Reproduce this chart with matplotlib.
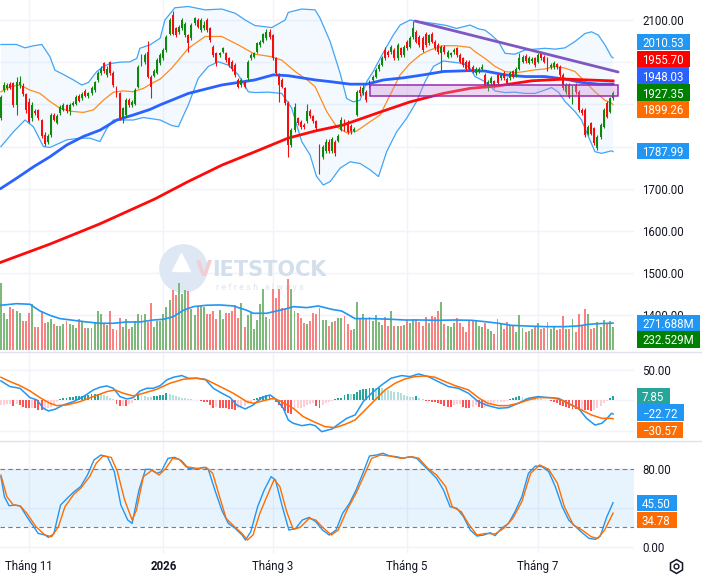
import numpy as np
import matplotlib
matplotlib.use("Agg")
import matplotlib.pyplot as plt
from matplotlib.patches import Rectangle
from matplotlib.lines import Line2D
from matplotlib.transforms import IdentityTransform, blended_transform_factory

plt.rcParams['font.family'] = ['Roboto', 'DejaVu Sans']

# ---------------- data ----------------
opens = [
    1867, 1934, 1938, 1948, 1950, 1899, 1946, 1944, 1924, 1906,
    1867, 1884, 1887, 1863, 1828, 1812, 1828, 1875, 1857, 1879,
    1887, 1899, 1884, 1899, 1902, 1921, 1914, 1932, 1921, 1926,
    1934, 1958, 1974, 1997, 1970, 2000, 1974, 1940, 1926, 1867,
    1875, 1910, 1899, 1902, 1942, 1993, 2001, 2025, 1966, 1968,
    1975, 1997, 2009, 2029, 2068, 2112, 2080, 2072, 2080, 2064,
    2064, 2057, 2092, 2100, 2076, 2080, 2100, 2080, 2037, 2021,
    2017, 2025, 2021, 2009, 2001, 1993, 1958, 1946, 1954, 1962,
    2009, 2013, 2025, 2041, 2049, 2057, 2072, 2064, 2009, 1970,
    1958, 1938, 1903, 1804, 1839, 1867, 1858, 1851, 1860, 1885,
    1872, 1860, 1800, 1775, 1790, 1812, 1790, 1812, 1814, 1840,
    1863, 1858, 1850, 1838, 1875, 1934, 1926, 1930, 1942, 1958,
    1966, 1985, 1993, 2029, 2025, 2025, 2029, 2009, 2033, 2017,
    2049, 2037, 2060, 2072, 2060, 2057, 2068, 2045, 2068, 2049,
    2041, 2021, 2037, 2013, 2017, 2025, 2033, 2017, 2009, 2001,
    2001, 1989, 1974, 1978, 1985, 1970, 1938, 1950, 1955, 1970,
    1962, 1974, 1960, 1963, 1978, 1970, 1985, 2001, 2015, 1999,
    2003, 2009, 2001, 2021, 2013, 2009, 1989, 1989, 1995, 1989,
    1970, 1929, 1946, 1906, 1946, 1929, 1887, 1887, 1831, 1855,
    1843, 1796, 1823, 1847, 1903, 1883, 1914]
closes = [
    1918, 1946, 1946, 1940, 1899, 1952, 1952, 1924, 1887, 1859,
    1899, 1879, 1867, 1824, 1805, 1824, 1875, 1863, 1873, 1895,
    1899, 1884, 1899, 1904, 1918, 1909, 1925, 1921, 1926, 1940,
    1952, 1974, 1985, 1978, 1984, 1974, 1946, 1922, 1867, 1891,
    1910, 1899, 1906, 1934, 1989, 2013, 2017, 1966, 1942, 1979,
    2005, 2017, 2029, 2060, 2100, 2068, 2064, 2084, 2100, 2090,
    2045, 2088, 2104, 2084, 2100, 2088, 2076, 2052, 2017, 1997,
    2021, 2033, 2005, 1993, 1985, 1970, 1942, 1958, 1942, 2001,
    2017, 2021, 2045, 2049, 2066, 2071, 2060, 2009, 1974, 1946,
    1942, 1903, 1804, 1839, 1895, 1855, 1846, 1846, 1885, 1872,
    1860, 1845, 1742, 1800, 1812, 1790, 1818, 1786, 1826, 1862,
    1843, 1835, 1838, 1842, 1930, 1926, 1938, 1910, 1954, 1966,
    1982, 1993, 2009, 2009, 2017, 2037, 2009, 2041, 2017, 2037,
    2033, 2057, 2080, 2049, 2041, 2029, 2041, 2064, 2049, 2033,
    2025, 2037, 2025, 2025, 2021, 2029, 2017, 2001, 1993, 1985,
    1985, 1978, 1985, 1985, 1989, 1942, 1954, 1963, 1942, 1950,
    1970, 1962, 1950, 1974, 1966, 1985, 2009, 2013, 2003, 2011,
    2008, 1993, 2017, 2009, 2001, 1982, 1993, 1999, 1989, 1970,
    1938, 1946, 1918, 1942, 1929, 1887, 1879, 1827, 1847, 1831,
    1808, 1823, 1851, 1887, 1871, 1914, 1927.35]
highs = [
    1922, 1952, 1950, 1953, 1953, 1966, 1967, 1950, 1928, 1915,
    1905, 1888, 1890, 1866, 1835, 1830, 1880, 1879, 1877, 1899,
    1904, 1902, 1903, 1908, 1922, 1925, 1930, 1936, 1930, 1944,
    1956, 1980, 1992, 2000, 1990, 2003, 1978, 1944, 1930, 1895,
    1914, 1914, 1910, 1938, 1993, 2020, 2022, 2050, 1970, 1983,
    2010, 2022, 2033, 2064, 2104, 2121, 2084, 2088, 2104, 2095,
    2068, 2092, 2108, 2104, 2104, 2098, 2104, 2084, 2041, 2025,
    2025, 2037, 2025, 2013, 2005, 1997, 1962, 1962, 1958, 2005,
    2021, 2025, 2049, 2053, 2070, 2078, 2078, 2068, 2013, 1974,
    1962, 1942, 1907, 1843, 1903, 1871, 1862, 1855, 1900, 1889,
    1876, 1864, 1805, 1804, 1818, 1817, 1822, 1815, 1830, 1870,
    1866, 1862, 1853, 1846, 1935, 1944, 1946, 1934, 1958, 1970,
    1986, 1997, 2015, 2035, 2030, 2041, 2033, 2045, 2037, 2041,
    2052, 2062, 2098, 2077, 2065, 2062, 2072, 2068, 2072, 2053,
    2045, 2041, 2041, 2029, 2025, 2033, 2037, 2021, 2013, 2005,
    2005, 1993, 1989, 1989, 1996, 1974, 1958, 1967, 1959, 1974,
    1974, 1978, 1964, 1978, 1982, 1989, 2021, 2017, 2019, 2015,
    2012, 2013, 2021, 2025, 2017, 2013, 1997, 2003, 1999, 1993,
    1974, 1950, 1950, 1946, 1950, 1933, 1891, 1891, 1851, 1859,
    1847, 1827, 1855, 1891, 1907, 1918, 1931]
lows = [
    1863, 1930, 1934, 1936, 1895, 1875, 1940, 1920, 1880, 1855,
    1860, 1875, 1862, 1820, 1802, 1806, 1822, 1860, 1853, 1876,
    1884, 1880, 1875, 1896, 1898, 1905, 1910, 1918, 1915, 1922,
    1930, 1954, 1970, 1975, 1966, 1970, 1942, 1918, 1863, 1856,
    1870, 1895, 1895, 1898, 1938, 1990, 1996, 1962, 1915, 1964,
    1972, 1993, 2005, 2025, 2064, 2064, 2060, 2068, 2076, 2060,
    2025, 2053, 2088, 2080, 2072, 2076, 2072, 2048, 2013, 1990,
    2013, 2021, 2001, 1989, 1980, 1966, 1938, 1942, 1938, 1958,
    2005, 2009, 2021, 2037, 2045, 2053, 2056, 2005, 1970, 1906,
    1938, 1899, 1776, 1800, 1835, 1851, 1842, 1842, 1856, 1868,
    1856, 1840, 1735, 1770, 1785, 1785, 1786, 1777, 1810, 1836,
    1838, 1830, 1830, 1834, 1872, 1920, 1922, 1905, 1938, 1954,
    1962, 1980, 1990, 2005, 2012, 2020, 2005, 2005, 2013, 2012,
    2030, 2033, 2056, 2045, 2036, 2025, 2036, 2040, 2045, 2029,
    2020, 1978, 2020, 2009, 2013, 2020, 2013, 1997, 1989, 1980,
    1981, 1974, 1970, 1974, 1981, 1938, 1932, 1946, 1938, 1946,
    1958, 1958, 1946, 1959, 1962, 1966, 1981, 1997, 1999, 1995,
    1999, 1989, 1997, 2005, 1997, 1978, 1985, 1985, 1985, 1966,
    1934, 1925, 1914, 1902, 1925, 1883, 1875, 1823, 1827, 1827,
    1804, 1792, 1819, 1843, 1867, 1879, 1910]

# volume, millions of shares
volumes = [
    674, 377, 317, 438, 418, 394, 371, 293, 293, 377,
    462, 233, 233, 394, 276, 283, 310, 266, 243, 243,
    266, 293, 266, 249, 226, 317, 283, 226, 226, 226,
    283, 394, 361, 276, 249, 394, 216, 202, 327, 236,
    317, 209, 236, 293, 361, 350, 361, 283, 479, 236,
    293, 293, 361, 438, 506, 607, 553, 674, 563, 607,
    596, 418, 350, 445, 445, 438, 361, 361, 394, 310,
    404, 310, 377, 377, 394, 452, 327, 479, 236, 350,
    371, 216, 303, 462, 613, 337, 317, 613, 529, 613,
    428, 411, 721, 613, 394, 371, 327, 270, 259, 293,
    377, 361, 428, 303, 303, 243, 283, 293, 327, 327,
    344, 259, 202, 216, 485, 317, 361, 310, 334, 293,
    354, 283, 253, 334, 243, 394, 243, 243, 243, 253,
    303, 276, 310, 317, 283, 243, 334, 276, 344, 334,
    394, 485, 259, 243, 236, 270, 320, 276, 236, 182,
    290, 300, 300, 243, 236, 270, 216, 192, 158, 317,
    259, 209, 286, 249, 253, 182, 350, 219, 182, 192,
    216, 243, 276, 216, 219, 283, 209, 236, 202, 209,
    344, 209, 216, 317, 182, 367, 243, 418, 367, 216,
    226, 283, 236, 303, 266, 293, 232.529]

macd_hist = [
    -7.7, -7.0, -6.6, -6.3, -8.8, -6.6, -7.7, -10.5, -13.2, -13.5,
    -13.0, -13.5, -16.0, -16.3, -14.3, -13.2, -10.5, -6.6, -2.2, 1.7,
    3.3, 4.4, 5.0, 6.1, 6.3, 7.2, 7.7, 8.8, 9.0, 9.9,
    10.0, 10.2, 9.9, 8.8, 7.7, 4.4, 1.7, -6.6, -9.4, -8.8,
    -9.4, -6.6, -5.0, 1.7, 8.0, 7.7, 6.6, 6.1, 6.0, 7.2,
    7.7, 8.8, 9.0, 11.6, 10.5, 8.8, 7.2, 6.1, 4.4, 3.3,
    2.2, 1.7, 0.6, 0.2, -1.1, -2.2, -3.3, -7.7, -12.1, -10.5,
    -12.1, -13.2, -13.3, -14.3, -14.4, -16.0, -13.2, -12.1, -8.8, -6.6,
    -2.2, 1.7, 4.4, 6.1, 7.7, 8.8, 8.9, 4.4, -2.2, -7.7,
    -13.2, -17.6, -21.5, -22.0, -16.0, -13.2, -13.0, -10.5, -7.7, -6.6,
    -5.0, -8.8, -13.2, -7.7, -5.0, -2.2, -1.1, 1.7, 3.3, 4.4,
    8.8, 10.5, 9.9, 10.2, 14.3, 17.1, 18.7, 18.9, 19.8, 20.9,
    19.8, 20.9, 19.8, 17.1, 16.5, 15.4, 14.3, 13.2, 11.6, 8.8,
    7.2, 6.1, 6.0, 7.2, 3.3, 1.7, -1.1, -1.2, -2.2, -2.3,
    -5.0, -6.6, -8.8, -10.5, -10.6, -7.7, -6.6, -6.5, -10.5, -12.1,
    -12.2, -10.5, -7.7, -10.5, -12.1, -10.5, -7.7, -6.6, -5.0, -3.9,
    -3.3, -2.2, -1.1, 2.2, 4.4, 6.1, 7.2, 6.1, 4.4, 3.3,
    3.2, 2.2, 1.7, 1.6, 1.1, 0.6, -1.1, -2.2, -5.0, -7.7,
    -8.8, -10.5, -13.2, -14.3, -15.0, -15.5, -15.4, -16.0, -16.5, -17.0,
    -15.5, -13.2, -9.0, -4.5, -1.0, 3.5, 7.85]

# indicator lines, sampled along the bar axis
bb_upper_x = [0, 5, 7.7, 10.4, 13.1, 15.7, 17.3, 20, 23.2, 25.9,
              28, 30.7, 32.8, 35, 38.1, 41.3, 43.5, 44.5, 47.7, 51,
              52.5, 55.7, 60, 65.4, 70.7, 75, 78.2, 81.3, 86.7, 91,
              92, 96.3, 100.6, 102.2, 105.4, 108.6, 110.7, 112.8, 115, 117.1,
              119.2, 121.4, 123.5, 125.6, 127.8, 131, 134.2, 138.5, 142.7, 145.9,
              150.2, 152.9, 155, 157.1, 159.3, 161.4, 164.6, 167.8, 171, 174.2,
              177.4, 180.6, 183.8, 187, 189.1, 191.3, 193.4, 195.5, 196]
bb_upper = [2042, 2042, 2034, 2039, 2042, 2013, 1981, 1971, 1958, 1946,
            1952, 1978, 1990, 1997, 2000, 2001, 2009, 2033, 2041, 2057,
            2100, 2129, 2132, 2124, 2126, 2116, 2100, 2087, 2082, 2100,
            2118, 2126, 2124, 2104, 2049, 1974, 1914, 1906, 1910, 1954,
            1978, 2009, 2037, 2064, 2088, 2100, 2096, 2092, 2087, 2080,
            2088, 2079, 2076, 2064, 2049, 2021, 2019, 2029, 2031, 2033,
            2031, 2034, 2049, 2068, 2072, 2064, 2041, 2013, 2010.53]
bb_lower_x = [0, 4, 7.7, 10.4, 13.6, 15.7, 21.1, 25.3, 28.5, 31.7,
              33.9, 36, 42.4, 45.6, 51, 54.7, 56.8, 60, 63.2, 66.4,
              69.6, 72.8, 76, 79.2, 81.3, 85.6, 89.9, 93.1, 96.3, 99,
              101, 103.2, 105.4, 108.6, 111.8, 115, 118.2, 120.9, 123.5, 126.7,
              129.9, 133.1, 135.8, 138.5, 141.7, 144.7, 148.1, 150.2, 151.8, 155,
              158.2, 161.4, 164.6, 167.8, 171, 174.2, 176.3, 178.5, 180.6, 183.8,
              185.9, 188.1, 190.2, 192.3, 195.5, 196]
bb_lower = [1800, 1835, 1863, 1847, 1800, 1798, 1816, 1820, 1820, 1812,
            1843, 1863, 1863, 1869, 1863, 1850, 1847, 1899, 1962, 1990,
            2001, 1993, 1970, 1930, 1928, 1929, 1926, 1891, 1812, 1780,
            1730, 1709, 1717, 1749, 1764, 1760, 1745, 1729, 1788, 1835,
            1867, 1907, 1954, 1990, 2003, 2000, 1997, 1986, 1966, 1954,
            1932, 1928, 1929, 1926, 1926, 1934, 1940, 1929, 1907, 1883,
            1863, 1824, 1788, 1784, 1790, 1787.99]
bb_mid_x = [0, 2.9, 6.1, 9.3, 12.5, 15.7, 18.9, 22.1, 26.4, 29.6,
            32.8, 36, 39.2, 42.4, 45.6, 48.8, 51, 54.7, 60, 65.4,
            70.7, 76, 81.3, 86.7, 89.9, 94.2, 98.4, 100.6, 104.3, 107.5,
            110.7, 113.9, 118.2, 121.4, 124.6, 127.8, 131, 134.2, 137.4, 141.6,
            145.9, 150.2, 151.8, 155, 158.2, 161.4, 164.6, 167.8, 171, 174.2,
            177.4, 180.6, 183.8, 187, 190.2, 193.4, 195.5, 196]
bb_mid = [1930, 1942, 1946, 1934, 1926, 1907, 1891, 1884, 1881, 1887,
          1910, 1929, 1932, 1930, 1938, 1952, 1960, 1986, 2033, 2061,
          2061, 2041, 2019, 2013, 2005, 1978, 1956, 1942, 1883, 1847,
          1833, 1837, 1859, 1875, 1922, 1970, 1997, 2017, 2029, 2039,
          2039, 2035, 2025, 2009, 1990, 1978, 1975, 1978, 1982, 1984,
          1990, 1986, 1978, 1954, 1930, 1910, 1903, 1899.26]
ma_blue_x = [0, 5, 10.4, 15.7, 21.1, 26.4, 31.7, 37.1, 42.4, 47.7,
             51, 60, 70.7, 81.3, 87.2, 92, 100.6, 105.4, 111.8, 117.1,
             122.5, 128.9, 135.3, 141.7, 150.2, 155, 161.4, 167.8, 174.2, 180.6,
             185.9, 191.3, 196]
ma_blue = [1701, 1725, 1752, 1776, 1804, 1824, 1839, 1863, 1875, 1888,
           1899, 1926, 1946, 1958, 1970, 1968, 1958, 1954, 1948, 1948,
           1958, 1963, 1970, 1978, 1980, 1979, 1970, 1966, 1966, 1960,
           1952, 1948, 1948.03]
ma_red_x = [0, 15.7, 31.7, 49.3, 59.9, 70.7, 81.4, 91.9, 100.6, 109.5,
            120.3, 131, 141.6, 150.2, 159.2, 170, 180.6, 196]
ma_red = [1526, 1569, 1617, 1676, 1717, 1756, 1788, 1820, 1837, 1851,
          1879, 1906, 1926, 1938, 1944, 1956, 1960, 1955.70]
vol_ma_x = [0, 5, 9.3, 12.5, 15.7, 18.9, 23.2, 27.5, 31.7, 36,
            40.3, 44.5, 48.8, 52, 55.2, 58.4, 61.6, 65.9, 70.1, 74.4,
            78.7, 80.8, 85.1, 88.3, 91.5, 93.6, 97.9, 101.6, 105.9, 109.1,
            113.4, 118.7, 125.1, 129.4, 134.7, 140, 145.4, 150.7, 155, 159.3,
            163.5, 167.8, 174.2, 180.6, 184.9, 188.1, 191.3, 196]
vol_ma = [452, 468, 462, 394, 350, 317, 300, 283, 270, 270,
          283, 283, 303, 310, 337, 401, 438, 452, 455, 445,
          401, 371, 371, 394, 418, 438, 428, 445, 411, 394,
          317, 317, 310, 303, 303, 300, 303, 300, 286, 270,
          249, 243, 236, 236, 243, 259, 266, 271.688]
macd_x = [0, 2.9, 6.1, 9.3, 11.5, 13.6, 15.2, 17.3, 20, 23.2,
          26.4, 29.6, 31.7, 33.9, 36, 38.1, 40.3, 42.4, 44.5, 46.7,
          48.8, 51, 53.1, 55.2, 57.9, 60, 62.7, 65.4, 68, 70.2,
          73.4, 75.5, 78.2, 80.8, 83.5, 86.2, 88.3, 90.4, 92, 93.6,
          96.3, 99, 100.6, 102.7, 106, 107.7, 110.7, 113.4, 116, 118.7,
          121.9, 124.9, 128.3, 131, 133.7, 136.8, 140, 143.3, 146.4, 149.7,
          152.8, 155.9, 159.3, 162.4, 165.6, 168.9, 172, 175.3, 178.5, 181.6,
          184.9, 187.5, 190.2, 192.4, 193.9, 195.5, 196]
macd_line = [32.0, 22.6, 19.8, 4.4, 0.6, -13.2, -17.6, -14.9, -7.7, -2.2,
             6.1, 17.1, 21.5, 23.7, 19.8, 6.1, 2.2, 4.4, 15.4, 19.8,
             19.8, 24.2, 33.6, 38.0, 40.8, 36.4, 36.4, 34.7, 19.8, 13.2,
             4.4, -7.7, -14.3, -7.7, 4.4, 8.8, 0.6, -13.2, -32.5, -38.0,
             -41.9, -39.7, -41.9, -51.8, -47.4, -40.8, -29.8, -24.2, -2.2, 11.6,
             25.3, 36.4, 40.8, 39.1, 43.5, 39.1, 30.9, 22.6, 19.8, 11.6,
             -2.2, -8.8, -13.2, -12.1, -5.0, 3.3, 6.1, 4.4, 3.3, -5.0,
             -13.2, -29.8, -40.8, -38.0, -30.9, -21.5, -22.72]
signal_x = [0, 2.9, 6.1, 9.3, 12.5, 15.7, 17.9, 21.1, 25.3, 29.6,
            33.9, 36.5, 39.2, 42.4, 45.6, 49.9, 54.1, 58.4, 62.7, 65.9,
            70.2, 74.4, 78.7, 80.8, 85.1, 87.2, 89.4, 93.6, 96.8, 100.6,
            103.8, 107, 110.2, 113.4, 116.6, 119.8, 123, 126.2, 129.4, 132.6,
            135.8, 139, 142.2, 145.4, 149.7, 152.8, 155.9, 159.3, 162.4, 165.6,
            168.9, 172, 176.2, 179.5, 182.6, 185.9, 189.1, 192.4, 195.5, 196]
signal_line = [38.0, 30.9, 24.2, 15.4, 4.4, -5.0, -8.8, -7.7, -2.2, 6.1,
               14.3, 17.1, 11.6, 7.2, 11.6, 18.2, 28.1, 34.7, 36.4, 33.6,
               22.6, 11.6, -2.2, -5.0, 0.6, 3.3, -1.1, -13.2, -27.0, -36.4,
               -43.5, -45.2, -39.7, -32.5, -16.0, 0.6, 17.1, 28.1, 35.3, 39.1,
               40.2, 38.0, 30.9, 24.2, 17.1, 4.4, -5.0, -8.8, -8.8, -5.0,
               0.6, 4.4, 4.4, 0.6, -7.7, -16.0, -24.2, -29.8, -29.8, -30.57]
stoch_k_x = [0, 1.1, 2.6, 4.7, 6.2, 8.3, 10.5, 11.9, 14.1, 15.2,
             16.9, 19.1, 21.2, 23.4, 25.5, 27.7, 29.8, 32, 34.1, 36.3,
             38.4, 40.6, 42, 44.2, 46.3, 47.8, 49.9, 51.3, 53.5, 55.6,
             57.8, 60, 62.8, 65, 66.4, 68.5, 70.7, 72.8, 75, 77.2,
             78.3, 80, 82.2, 84.3, 86.5, 87.9, 90.1, 92.2, 94.4, 96.5,
             98.7, 100.8, 103, 105.1, 107.3, 109.4, 111.6, 113.7, 115.9, 118,
             120.2, 122.3, 124.5, 126.6, 128.8, 130.9, 133.1, 135.2, 137.4, 139.5,
             141.7, 143.8, 146, 148.1, 150.3, 152.4, 154.6, 156.7, 158.2, 160.3,
             162.5, 164.6, 166.8, 168.9, 171.1, 173.2, 175.4, 177.5, 179.7, 181.8,
             184, 186.1, 188.3, 190.4, 191.9, 194, 196]
stoch_k = [72.4, 51.7, 42.4, 43.1, 42.1, 31.0, 20.7, 13.8, 12.1, 9.7,
           13.1, 43.1, 50.0, 56.9, 62.1, 74.1, 89.7, 94.8, 93.1, 77.6,
           43.1, 27.6, 24.1, 58.6, 80.0, 80.0, 75.9, 77.6, 91.4, 92.4,
           89.0, 81.0, 80.0, 82.1, 80.0, 58.6, 37.9, 24.1, 19.0, 12.1,
           6.9, 15.5, 41.4, 58.6, 72.4, 69.0, 41.4, 17.2, 19.0, 27.6,
           30.3, 25.9, 17.2, 12.1, 17.2, 34.5, 44.8, 58.6, 75.9, 93.8,
           94.8, 96.6, 93.8, 93.1, 91.4, 93.1, 91.4, 84.5, 77.6, 70.7,
           58.6, 41.4, 39.7, 31.0, 17.2, 11.0, 12.1, 14.5, 11.4, 19.0,
           24.1, 36.2, 51.7, 75.9, 83.4, 82.8, 77.6, 62.1, 41.4, 27.6,
           20.7, 14.5, 8.6, 7.6, 11.0, 31.0, 45.50]
stoch_d_x = [0, 1.9, 4, 6.2, 8.3, 11.2, 14.1, 16.2, 18.4, 20.5,
             23.4, 25.5, 28.4, 30.5, 32.7, 35.3, 37.3, 39.6, 42, 43.4,
             45.6, 48.5, 50.6, 52.8, 55, 57.1, 59.2, 62.8, 65.7, 67.8,
             70, 72.1, 75, 77.2, 78.9, 80.7, 82.9, 85.8, 87.5, 89.3,
             91.5, 93.6, 95.8, 98.7, 100.8, 103, 105.8, 108, 110.8, 113.7,
             116.6, 118.7, 121.6, 124.5, 128.1, 131.6, 133.8, 136.7, 139.5, 142.4,
             144.5, 147.4, 149.6, 152.4, 155.3, 158.2, 161, 163.9, 166.8, 169.6,
             172.5, 175.4, 178.2, 180.4, 183.3, 186.1, 189, 191.1, 193.3, 196]
stoch_d = [74.1, 51.7, 43.1, 42.1, 34.5, 20.7, 12.1, 10.3, 20.7, 41.4,
           54.5, 60.3, 72.4, 86.2, 93.8, 92.4, 77.6, 48.3, 27.6, 37.9,
           72.4, 79.3, 74.1, 81.0, 91.4, 90.3, 82.8, 81.0, 82.1, 75.9,
           51.7, 29.3, 20.0, 13.8, 6.9, 12.1, 34.5, 56.9, 69.7, 62.1,
           36.2, 17.9, 20.0, 29.3, 27.6, 20.0, 12.1, 17.2, 37.9, 55.2,
           75.9, 91.4, 94.8, 93.8, 91.4, 93.1, 91.4, 81.0, 74.1, 62.1,
           41.4, 36.2, 24.1, 12.1, 13.8, 13.1, 19.0, 29.3, 46.6, 75.9,
           84.5, 80.0, 65.5, 41.4, 22.4, 17.2, 10.3, 8.6, 17.2, 34.78]

# drawings on the chart (bar index, price)
trend_x = [132.6, 197.6]
trend_y = [2097.6, 1976.8]
zone_x = [118.3, 197.6]
zone_y = [1921, 1946]

month_idx = [9, 52, 87, 130, 172]
month_names = ['Tháng 11', '2026', 'Tháng 3', 'Tháng 5', 'Tháng 7']

# ---------------- styling ----------------
GREEN = '#0b8a0b'
RED = '#f70d0d'
VGREEN = '#7cb97a'
VRED = '#f88282'
BB_C = '#42a5f5'
ORANGE = '#ff6d00'
BLUE = '#2962ff'
LBLUE = '#2196f3'
GRID = '#f0f3fa'
TXT = '#131722'

W, H = 702, 578
PW = 634  # right edge of plotting area (px)
fig = plt.figure(figsize=(W / 100, H / 100), dpi=100)


def rect(top, bottom):
    return [0, 1 - bottom / H, PW / W, (bottom - top) / H]


ax = fig.add_axes(rect(0, 352))
axm = fig.add_axes(rect(352, 441), sharex=ax)
axs = fig.add_axes(rect(441, 553), sharex=ax)
axv = ax.twinx()

for a in (ax, axm, axs, axv):
    for s in a.spines.values():
        s.set_visible(False)
    a.tick_params(length=0, labelleft=False, labelright=False, labelbottom=False)
    a.set_axisbelow(True)

x = np.arange(len(closes))
o = np.array(opens)
c = np.array(closes)
up = c >= o

ax.set_xlim(-0.3, 202.7)
ax.set_ylim(1313.3, 2147.4)
ax.set_yticks(np.arange(1400, 2101, 100))
for a in (ax, axm, axs):
    a.set_xticks(month_idx)
    a.grid(True, color=GRID, lw=1)

# watermark
ax.plot([183 / PW], [1 - 268 / 352], 'o', ms=34, color='#dde8f4', transform=ax.transAxes, zorder=0.6)
ax.plot([181 / PW], [1 - 262 / 352], '^', ms=13, color='white', transform=ax.transAxes, zorder=0.7)
ax.text(196 / PW, 1 - 270 / 352, 'V', fontsize=15, fontweight='bold', color='#f3cdd2',
        family='DejaVu Sans', va='center', transform=ax.transAxes, zorder=0.7)
ax.text(212 / PW, 1 - 270 / 352, 'IETSTOCK', fontsize=15, fontweight='bold', color='#d3dfed',
        family='DejaVu Sans', va='center', transform=ax.transAxes, zorder=0.7)
ax.text(216 / PW, 1 - 287 / 352, 'r e f r e s h   a l w a y s', fontsize=6.5, color='#dfe5ec',
        va='center', transform=ax.transAxes, zorder=0.7)

# bollinger bands and moving averages
ax.fill(np.r_[bb_upper_x, bb_lower_x[::-1]], np.r_[bb_upper, bb_lower[::-1]],
        color=LBLUE, alpha=0.05, lw=0, zorder=1)
ax.plot(bb_upper_x, bb_upper, color=BB_C, lw=0.9, zorder=2)
ax.plot(bb_lower_x, bb_lower, color=BB_C, lw=0.9, zorder=2)
ax.plot(bb_mid_x, bb_mid, color='#ff8c1a', lw=0.9, zorder=2)
ax.plot(ma_blue_x, ma_blue, color=BLUE, lw=2.0, zorder=3)
ax.plot(ma_red_x, ma_red, color='#ff0a0a', lw=2.0, zorder=3)

# candles
ccol = np.where(up, GREEN, RED)
ax.vlines(x, lows, highs, colors=ccol, lw=0.8, zorder=4)
ax.bar(x, np.maximum(np.abs(c - o), 0.9), bottom=np.minimum(o, c), width=0.62,
       color=ccol, lw=0, zorder=5)

# drawings
ax.plot(trend_x, trend_y, color='#7e57c2', lw=2.0, zorder=6, solid_capstyle='round')
ax.add_patch(Rectangle((zone_x[0], zone_y[0]), zone_x[1] - zone_x[0], zone_y[1] - zone_y[0],
                       fc=(0.80, 0.55, 0.86, 0.35), ec='#9c27b0', lw=1.1, zorder=6))

# volume
axv.set_ylim(-20.2, 3535)
axv.set_yticks([])
axv.bar(x, volumes, width=0.62, color=np.where(up, VGREEN, VRED), lw=0, zorder=2)
axv.plot(vol_ma_x, vol_ma, color=LBLUE, lw=1.2, zorder=3)

# MACD
h = np.array(macd_hist)
hp = np.r_[h[0], h[:-1]]
hcol = np.where(h >= 0, np.where(h >= hp, '#26a69a', '#b2dfdb'),
                np.where(h < hp, '#ff5252', '#ffcdd2'))
axm.set_ylim(-67.2, 79.7)
axm.set_yticks([-50, 0, 50])
axm.bar(x, h, width=0.62, color=hcol, lw=0, zorder=2)
axm.plot(macd_x, macd_line, color=LBLUE, lw=1.1, zorder=3)
axm.plot(signal_x, signal_line, color=ORANGE, lw=1.1, zorder=3)

# stochastic
axs.set_ylim(-6.5, 109.3)
axs.set_yticks([0, 40, 80])
axs.axhspan(20, 80, color=LBLUE, alpha=0.1, lw=0, zorder=1)
for lvl in (20, 80):
    axs.axhline(lvl, color='#787b86', lw=0.8, dashes=(4, 3), zorder=2)
axs.plot(stoch_k_x, stoch_k, color=LBLUE, lw=1.0, zorder=3)
axs.plot(stoch_d_x, stoch_d, color=ORANGE, lw=1.0, zorder=3)

axs.tick_params(labelbottom=True, pad=5, labelsize=8.3, labelcolor=TXT)
axs.set_xticklabels(month_names)
axs.get_xticklabels()[1].set_fontweight('bold')

# panel separators
for yp in (352, 441):
    fig.add_artist(Line2D([0, 1], [1 - yp / H] * 2, transform=fig.transFigure,
                          color='#e0e3eb', lw=1))

# right-hand scale labels
FS = 8.3
tx = 642 / W
for a, vals in ((ax, [2100, 1800, 1700, 1600, 1500, 1400]), (axm, [50]), (axs, [80, 0])):
    tr = blended_transform_factory(fig.transFigure, a.transData)
    for v in vals:
        fig.text(tx, v, f'{v:.2f}', transform=tr, fontsize=FS, color=TXT,
                 va='center_baseline', ha='left', zorder=3)


def fmt(v, unit=''):
    return f'{v:.2f}'.replace('-', '\u2212') if not unit else f'{v:.3f}{unit}'


tags = [
    (41.7, fmt(bb_upper[-1]), LBLUE),
    (58.7, fmt(ma_red[-1]), '#ff0000'),
    (75.5, fmt(ma_blue[-1]), BLUE),
    (92.5, fmt(closes[-1]), '#008000'),
    (109.5, fmt(bb_mid[-1]), ORANGE),
    (151.0, fmt(bb_lower[-1]), LBLUE),
    (323.3, fmt(vol_ma[-1], 'M'), LBLUE),
    (339.3, fmt(volumes[-1], 'M'), '#008000'),
    (395.8, fmt(macd_hist[-1]), '#26a69a'),
    (412.5, fmt(macd_line[-1]), LBLUE),
    (430.0, fmt(signal_line[-1]), ORANGE),
    (502.8, fmt(stoch_k[-1]), LBLUE),
    (520.0, fmt(stoch_d[-1]), ORANGE),
]
renderer = fig.canvas.get_renderer()
for yp, s, bg in tags:
    t = fig.text(tx, 1 - yp / H, s, fontsize=FS, color='white', va='center_baseline',
                 ha='left', zorder=6)
    bb = t.get_window_extent(renderer)
    fig.add_artist(Rectangle((637, H - yp - 8.2), bb.x1 + 6 - 637, 16.4,
                             transform=IdentityTransform(), fc=bg, ec='none', zorder=5))

# settings icon
gx, gy = 676 / W, 1 - 566 / H
fig.add_artist(Line2D([gx], [gy], marker='h', ms=10, mfc='none', mec=TXT, mew=1.1,
                      transform=fig.transFigure))
fig.add_artist(Line2D([gx], [gy], marker='o', ms=3.5, mfc='none', mec=TXT, mew=1.0,
                      transform=fig.transFigure))

fig.savefig('out.png', dpi=100)
